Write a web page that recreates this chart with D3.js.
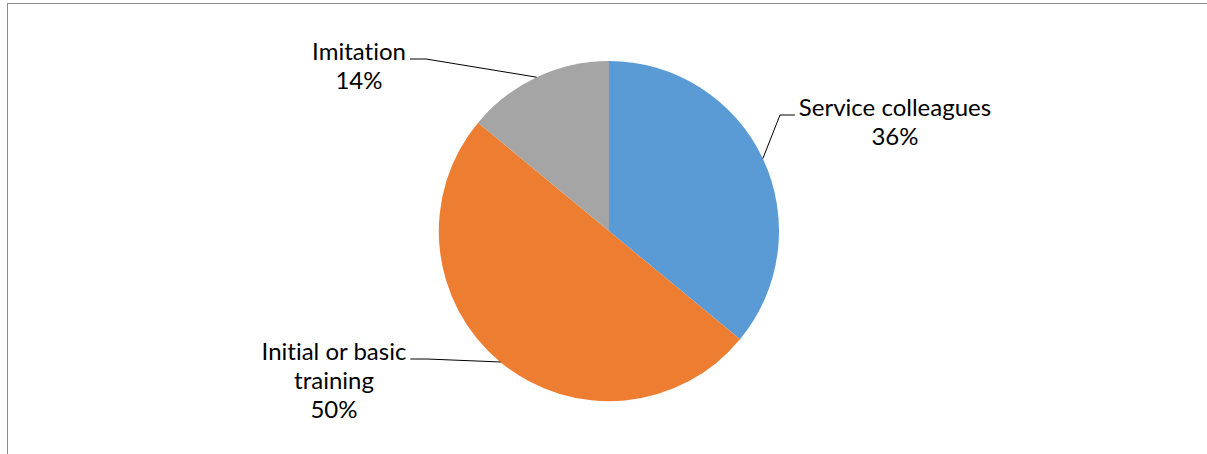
<!DOCTYPE html>
<html>
<head>
<meta charset="utf-8">
<script src="https://cdn.jsdelivr.net/npm/d3@7"></script>
<style>
  html, body { margin: 0; padding: 0; background: #fff; }
  svg { display: block; }
  text { font-variant-ligatures: none; font-feature-settings: "liga" 0, "clig" 0; }
</style>
</head>
<body>
<svg id="chart" width="1207" height="454"></svg>
<script>
// Sources of knowledge, share of respondents
const categories = ["Service colleagues", "Initial or basic training", "Imitation"];
const shares = [36, 50, 14];
const colors = ["#5B9BD5", "#ED7D31", "#A5A5A5"];
// label text lines for each slice (name split where it wraps)
const labelLines = [["Service colleagues"], ["Initial or basic", "training"], ["Imitation"]];

// layout
const width = 1207, height = 454;
const cx = 609, cy = 231, radius = 170;
const fontSize = 24, lineGap = 29;
// label block: centre x and first baseline, plus where the leader elbow sits
const labelLayout = [
  { x: 895, y: 116, elbowX: 780, side: "right" },
  { x: 334, y: 360, elbowX: 427, side: "left" },
  { x: 359, y: 60,  elbowX: 426, side: "left" }
];

const svg = d3.select("#chart");

// chart area frame
svg.append("rect")
  .attr("x", 7.5).attr("y", 3.5)
  .attr("width", width + 20).attr("height", height + 20)
  .attr("fill", "none")
  .attr("stroke", "#8c8c8c")
  .attr("stroke-width", 1);

const data = categories.map((c, i) => ({ name: c, value: shares[i], i }));

const pie = d3.pie().sort(null).value(d => d.value).startAngle(0).endAngle(2 * Math.PI);
const arcs = pie(data);
const arc = d3.arc().innerRadius(0).outerRadius(radius);

const g = svg.append("g").attr("transform", `translate(${cx},${cy})`);

g.selectAll("path.slice")
  .data(arcs)
  .join("path")
  .attr("class", "slice")
  .attr("d", arc)
  .attr("fill", d => colors[d.data.i]);

// leader lines and labels
const font = "Lato, 'Open Sans', sans-serif";

arcs.forEach(a => {
  const i = a.data.i;
  const L = labelLayout[i];
  const mid = (a.startAngle + a.endAngle) / 2;
  const px = cx + radius * Math.sin(mid);
  const py = cy - radius * Math.cos(mid);

  const lines = labelLines[i].concat([d3.format(".0%")(a.data.value / 100)]);

  const txt = svg.append("text")
    .attr("font-family", font)
    .attr("font-size", fontSize)
    .attr("fill", "#000")
    .attr("text-anchor", "middle");
  lines.forEach((ln, k) => {
    txt.append("tspan")
      .attr("x", L.x)
      .attr("y", L.y + k * lineGap)
      .text(ln);
  });

  // edge of the first text line where the leader attaches
  const firstWidth = txt.select("tspan").node().getComputedTextLength();
  const edgeX = L.side === "left" ? L.x + firstWidth / 2 + 4 : L.x - firstWidth / 2 - 4;
  const lineY = L.y - 1;

  svg.append("path")
    .attr("d", d3.line()([[edgeX, lineY], [L.elbowX, lineY], [px, py]]))
    .attr("fill", "none")
    .attr("stroke", "#000")
    .attr("stroke-width", 1);
});
</script>
</body>
</html>
